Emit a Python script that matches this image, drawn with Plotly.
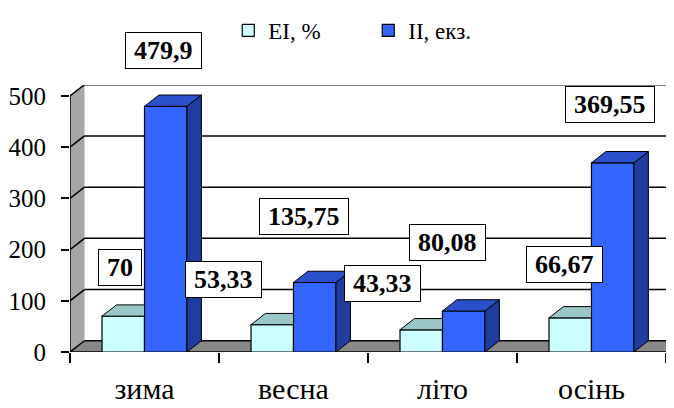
import plotly.graph_objects as go

# ---------------- data ----------------
categories = ["зима", "весна", "літо", "осінь"]
series_names = ["EI, %", "II, екз."]
ei_values = [70, 53.33, 43.33, 66.67]
ii_values = [479.9, 135.75, 80.08, 369.55]
ei_labels = ["70", "53,33", "43,33", "66,67"]
ii_labels = ["479,9", "135,75", "80,08", "369,55"]
y_ticks = [0, 100, 200, 300, 400, 500]

# ---------------- style ----------------
FONT = "Liberation Serif"
LABEL_FS = 26
BARGAP = 0.43
BAR_W = (1 - BARGAP) / 2          # width of one bar in category units
DX = 0.097                         # 3-D depth, category units
DY = 22                            # 3-D depth, value units
Y_TOP = max(y_ticks) + DY - 0.5
X_RANGE = [-0.5, len(categories) - 0.5 + 0.054]

EI_FRONT, EI_TOP = "#CCFFFF", "#99C6C6"
II_FRONT, II_TOP, II_SIDE = "#3366FF", "#2B50CC", "#1F3C9E"
SIDE_WALL, FLOOR = "#A6A6A6", "#888888"

# label offsets (px) relative to top of each bar front face
ei_shift = [(-3, 49), (-49, 45), (-39, 46), (-6, 53)]
ii_shift = [(-2, 56), (-11, 66), (-16, 69), (-3, 58)]

xs = list(range(len(categories)))

fig = go.Figure()

# front faces (real bars)
fig.add_trace(go.Bar(x=xs, y=ei_values, name=series_names[0],
                     marker=dict(color=EI_FRONT, line=dict(color="black", width=1.2))))
fig.add_trace(go.Bar(x=xs, y=ii_values, name=series_names[1],
                     marker=dict(color=II_FRONT, line=dict(color="black", width=1.2))))

# 3-D faces computed from the same values
def poly_trace(polys, color):
    px, py = [], []
    for p in polys:
        for (a, b) in p:
            px.append(a); py.append(b)
        px.append(p[0][0]); py.append(p[0][1])
        px.append(None); py.append(None)
    return go.Scatter(x=px, y=py, mode="lines", fill="toself", fillcolor=color,
                      line=dict(color="black", width=1), showlegend=False,
                      hoverinfo="skip")

ii_side, ii_top, ei_top = [], [], []
for i, (e, v) in enumerate(zip(ei_values, ii_values)):
    x0, x1 = i, i + BAR_W
    ii_side.append([(x1, 0), (x1, v), (x1 + DX, v + DY), (x1 + DX, DY)])
    ii_top.append([(x0, v), (x1, v), (x1 + DX, v + DY), (x0 + DX, v + DY)])
    e0, e1 = i - BAR_W, i
    ei_top.append([(e0, e), (e1, e), (e1, e + DY), (e0 + DX, e + DY)])

fig.add_trace(poly_trace(ii_side, II_SIDE))
fig.add_trace(poly_trace(ii_top, II_TOP))
fig.add_trace(poly_trace(ei_top, EI_TOP))

# walls, floor and back gridlines
xl, xr = -0.5, len(categories) - 0.5
shapes = []
shapes.append(dict(type="path", layer="below", xref="x", yref="y",
                   path=f"M{xl},0 L{xl},{max(y_ticks)} L{xl+DX},{max(y_ticks)+DY} L{xl+DX},{DY} Z",
                   fillcolor=SIDE_WALL, line=dict(color="#D0D0D0", width=1)))
shapes.append(dict(type="path", layer="below", xref="x", yref="y",
                   path=f"M{xl},0 L{xr},0 L{xr+DX},{DY} L{xl+DX},{DY} Z",
                   fillcolor=FLOOR, line=dict(width=0)))
for t in y_ticks:
    shapes.append(dict(type="line", layer="below", xref="x", yref="y",
                       x0=xl, y0=t, x1=xl + DX, y1=t + DY,
                       line=dict(color="black", width=1.5)))
    shapes.append(dict(type="line", layer="below", xref="x", yref="y",
                       x0=xl + DX, y0=t + DY, x1=xr + 2 * DX, y1=t + DY,
                       line=dict(color="black", width=1.5)))
# front axis lines
shapes.append(dict(type="line", layer="below", xref="x", yref="y",
                   x0=xl, y0=0, x1=xl, y1=max(y_ticks), line=dict(color="black", width=1.5)))
shapes.append(dict(type="line", layer="below", xref="x", yref="y",
                   x0=xl, y0=0, x1=xr, y1=0, line=dict(color="black", width=1.5)))


def box_width(txt):
    # Times-metric bold: digits 0.5em, comma 0.25em, plus padding
    return sum(0.25 if c == "," else 0.5 for c in txt) * LABEL_FS + 10


# data labels
annotations = []
for i in xs:
    for val, txt, sh, off in ((ei_values[i], ei_labels[i], ei_shift[i], -BAR_W / 2),
                              (ii_values[i], ii_labels[i], ii_shift[i], BAR_W / 2)):
        annotations.append(dict(x=i + off, y=val, xref="x", yref="y", text=f"<b>{txt}</b>",
                                showarrow=False, xshift=sh[0], yshift=sh[1],
                                xanchor="center", yanchor="middle",
                                width=box_width(txt), height=29, valign="middle",
                                font=dict(family=FONT, size=LABEL_FS, color="black"),
                                bgcolor="white", bordercolor="black", borderwidth=1,
                                borderpad=3))

# page has an 8px body margin: figure is 666x400 so plot lands at the reference position
fig.update_layout(
    template="none",
    width=666, height=400,
    margin=dict(l=62, r=0, t=77, b=56, autoexpand=False),
    paper_bgcolor="white", plot_bgcolor="white",
    barmode="group", bargap=BARGAP, bargroupgap=0,
    font=dict(family=FONT, color="black"),
    shapes=shapes, annotations=annotations,
    legend=dict(orientation="h", x=0.262, y=1.285, xanchor="left", yanchor="top",
                font=dict(family=FONT, size=23), entrywidth=95,
                itemwidth=30, bgcolor="rgba(0,0,0,0)"),
    xaxis=dict(range=X_RANGE, tickvals=xs, ticktext=categories, ticks="",
               showgrid=False, zeroline=False, showline=False, automargin=False,
               tickfont=dict(family=FONT, size=30),
               minor=dict(tick0=0.5, dtick=1, ticks="outside", ticklen=10,
                          tickcolor="black", tickwidth=1.5, showgrid=False),
               ticklabelstandoff=16),
    yaxis=dict(range=[0, Y_TOP], tickvals=y_ticks, ticks="outside", ticklen=8,
               tickcolor="black", tickwidth=1.5, showgrid=False, zeroline=False,
               showline=False, automargin=False, tickfont=dict(family=FONT, size=25),
               ticklabelstandoff=10),
)

fig.write_html("out.html")
